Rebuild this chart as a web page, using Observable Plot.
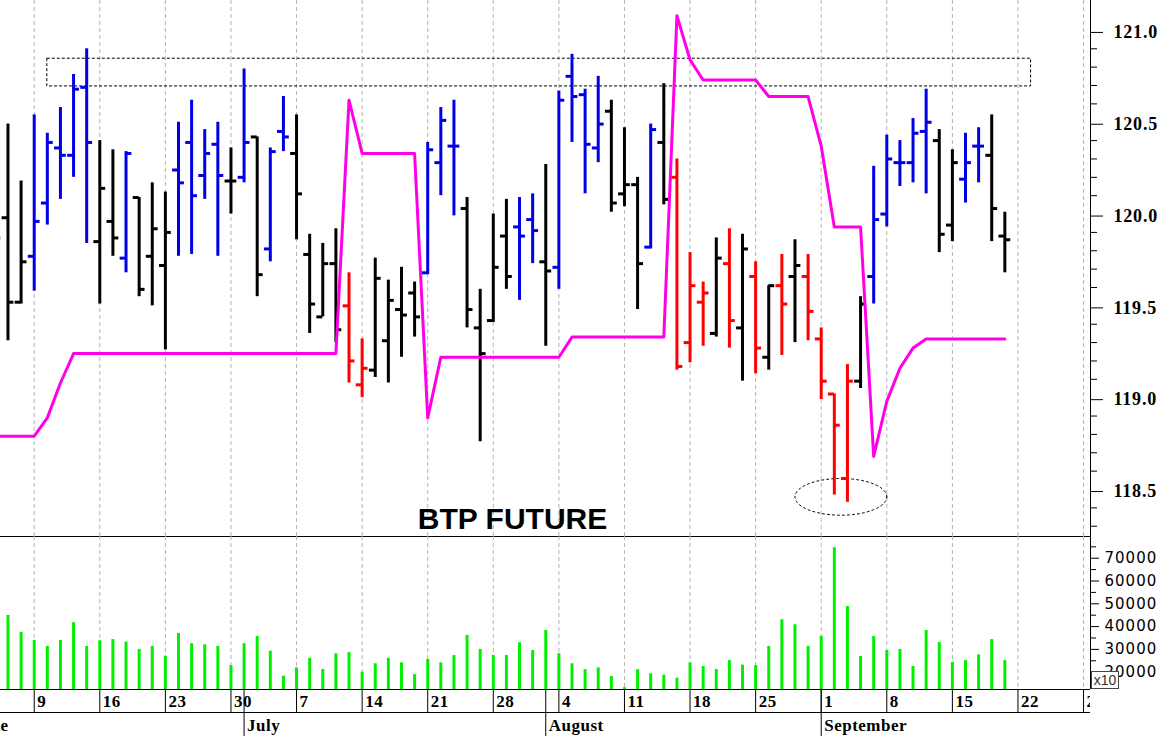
<!DOCTYPE html>
<html><head><meta charset="utf-8">
<script src="https://cdn.jsdelivr.net/npm/d3@7"></script>
<script src="https://cdn.jsdelivr.net/npm/@observablehq/plot@0.6"></script>
<style>
html,body{margin:0;padding:0;background:#fff;}
#chart{position:relative;width:1161px;height:736px;overflow:hidden;background:#fff;}
#chart svg{position:absolute;left:0;top:0;overflow:visible;background:transparent;}
#x10{position:absolute;left:1091px;top:671px;width:26px;height:16px;border:1px solid #444;background:#fff;font:14px "Liberation Sans",Arial,sans-serif;color:#333;line-height:16px;text-align:center;}
</style></head><body><div id="chart"></div><script>
// ---------- data ----------
const dates = [
 "2014-06-04","2014-06-05","2014-06-06",
 "2014-06-09","2014-06-10","2014-06-11","2014-06-12","2014-06-13",
 "2014-06-16","2014-06-17","2014-06-18","2014-06-19","2014-06-20",
 "2014-06-23","2014-06-24","2014-06-25","2014-06-26","2014-06-27",
 "2014-06-30","2014-07-01","2014-07-02","2014-07-03","2014-07-04",
 "2014-07-07","2014-07-08","2014-07-09","2014-07-10","2014-07-11",
 "2014-07-14","2014-07-15","2014-07-16","2014-07-17","2014-07-18",
 "2014-07-21","2014-07-22","2014-07-23","2014-07-24","2014-07-25",
 "2014-07-28","2014-07-29","2014-07-30","2014-07-31","2014-08-01",
 "2014-08-04","2014-08-05","2014-08-06","2014-08-07","2014-08-08",
 "2014-08-11","2014-08-12","2014-08-13","2014-08-14","2014-08-15",
 "2014-08-18","2014-08-19","2014-08-20","2014-08-21","2014-08-22",
 "2014-08-25","2014-08-26","2014-08-27","2014-08-28","2014-08-29",
 "2014-09-01","2014-09-02","2014-09-03","2014-09-04","2014-09-05",
 "2014-09-08","2014-09-09","2014-09-10","2014-09-11","2014-09-12",
 "2014-09-15","2014-09-16","2014-09-17","2014-09-18","2014-09-19"];
const opens = [119.80,119.98,119.52,
 119.77,120.06,120.36,120.32,120.69,
 119.85,119.96,119.76,120.09,119.77,
 119.72,120.24,120.39,120.21,120.38,
 120.18,120.20,120.42,119.81,120.45,
 120.33,119.78,119.44,119.73,119.50,
 119.07,119.15,119.31,119.48,119.57,
 119.68,120.28,120.37,120.03,119.38,
 119.42,119.88,119.93,119.97,119.74,
 119.71,120.75,120.65,120.36,120.56,
 120.11,120.16,119.82,120.39,120.20,
 119.30,119.52,119.35,119.73,119.38,
 119.66,119.22,119.61,119.66,119.66,
 119.32,119.02,118.56,119.09,119.66,
 120.00,120.28,120.28,120.45,120.40,
 119.94,120.19,120.37,120.32,119.88];
const highs = [120.00,120.49,120.18,
 120.54,120.44,120.58,120.76,120.90,
 120.40,120.35,120.34,120.09,120.17,
 120.12,120.50,120.62,120.46,120.50,
 120.36,120.79,120.42,120.36,120.64,
 120.54,119.89,119.84,119.92,119.68,
 119.32,119.76,119.64,119.71,119.63,
 120.39,120.58,120.62,120.09,119.59,
 120.00,120.08,120.09,120.11,120.27,
 120.67,120.87,120.68,120.75,120.62,
 120.47,120.20,120.49,120.71,120.30,
 119.79,119.63,119.87,119.92,119.89,
 119.74,119.61,119.78,119.86,119.78,
 119.38,119.02,119.18,119.55,120.26,
 120.43,120.40,120.52,120.68,120.46,
 120.35,120.44,120.47,120.54,120.01];
const lows = [119.75,119.31,119.51,
 119.58,119.94,120.08,120.20,119.84,
 119.51,119.77,119.68,119.55,119.50,
 119.26,119.77,119.78,120.08,119.77,
 120.00,120.17,119.55,119.74,120.34,
 119.86,119.35,119.44,119.30,119.08,
 119.00,119.11,119.08,119.22,119.33,
 119.67,120.10,119.99,119.38,118.76,
 119.41,119.59,119.53,119.73,119.28,
 119.59,120.39,120.11,120.28,120.01,
 120.04,119.48,119.81,120.05,119.15,
 119.19,119.28,119.33,119.27,119.09,
 119.13,119.15,119.23,119.30,119.31,
 118.99,118.47,118.43,119.05,119.51,
 119.93,120.15,120.17,120.11,119.79,
 119.85,120.06,120.17,119.85,119.68];
const closes = [119.87,119.52,119.74,
 119.96,120.39,120.32,120.68,120.39,
 120.14,119.87,120.33,119.59,119.92,
 119.90,120.17,120.10,120.33,120.21,
 120.18,120.39,119.67,120.34,120.42,
 120.11,119.51,119.73,119.37,119.20,
 119.16,119.65,119.53,119.45,119.44,
 120.35,120.51,120.37,119.48,119.24,
 119.71,119.66,119.88,119.91,119.69,
 120.62,120.64,120.38,120.49,120.06,
 120.16,119.73,120.46,120.08,119.17,
 119.61,119.57,119.76,119.42,119.81,
 119.27,119.61,119.51,119.72,119.47,
 119.09,118.85,119.09,119.51,119.97,
 120.30,120.28,120.44,120.50,119.89,
 120.28,120.28,120.37,120.03,119.86];
// bar colour class: b = blue, k = black, r = red
const barClass = ["b","k","k",
 "b","b","b","b","b",
 "k","k","b","k","k",
 "k","b","b","b","b",
 "k","b","k","b","b",
 "k","k","k","k","r",
 "r","k","k","k","k",
 "b","b","b","k","k",
 "k","k","b","b","k",
 "b","b","b","b","k",
 "k","k","b","k","r",
 "r","r","k","r","k",
 "r","k","r","k","r",
 "r","r","r","k","b",
 "b","b","b","b","k",
 "k","b","b","k","k"];
const stopLine = [118.79,118.79,118.79,
 118.79,118.89,119.08,119.24,119.24,
 119.24,119.24,119.24,119.24,119.24,
 119.24,119.24,119.24,119.24,119.24,
 119.24,119.24,119.24,119.24,119.24,
 119.24,119.24,119.24,119.24,120.62,
 120.33,120.33,120.33,120.33,120.33,
 118.89,119.22,119.22,119.22,119.22,
 119.22,119.22,119.22,119.22,119.22,
 119.22,119.33,119.33,119.33,119.33,
 119.33,119.33,119.33,119.33,121.08,
 120.84,120.73,120.73,120.73,120.73,
 120.73,120.64,120.64,120.64,120.64,
 120.37,119.93,119.93,119.93,118.68,
 118.98,119.16,119.27,119.32,119.32,
 119.32,119.32,119.32,119.32,119.32];
const volumes = [38000,44900,37500,
 33900,31300,33900,41700,31300,
 33800,34300,33200,30000,31300,
 26900,37000,32500,32000,31300,
 22900,32500,35700,29200,18300,
 21900,26100,21200,28100,28600,
 20000,23700,26100,24100,18900,
 25600,24100,27300,36100,30000,
 27300,27300,32900,29500,38300,
 28100,23700,21100,21900,18100,
 13200,21100,19300,18700,17400,
 24100,22500,21200,25100,23100,
 22900,31300,43000,40800,31300,
 35700,74600,48800,26900,35700,
 29500,30000,22500,38300,33000,
 24300,25100,27600,34300,25100];

const weekStarts = ["2014-06-09","2014-06-16","2014-06-23","2014-06-30","2014-07-07","2014-07-14",
 "2014-07-21","2014-07-28","2014-08-04","2014-08-11","2014-08-18","2014-08-25","2014-09-01",
 "2014-09-08","2014-09-15","2014-09-22","2014-09-29"];
const monthStarts = ["2014-06-02","2014-07-01","2014-08-01","2014-09-01"];
const monthNames = ["June","July","August","September"];
const priceMajor = [118.5,119.0,119.5,120.0,120.5,121.0];
const priceMinor = [118.3,118.4,118.6,118.7,118.8,118.9,119.1,119.2,119.3,119.4,119.6,119.7,119.8,119.9,
 120.1,120.2,120.3,120.4,120.6,120.7,120.8,120.9];
const volMajor = [20000,30000,40000,50000,60000,70000];
const volMinor = [25000,35000,45000,55000,65000,75000];
const boxDates = ["2014-06-10","2014-09-23"], boxPrices = [120.695,120.846];
const ovalDates = ["2014-08-28","2014-09-08"], ovalPrices = [118.36,118.56];
const title = "BTP FUTURE";

[opens,highs,lows,closes,barClass,stopLine,volumes].forEach((a,k)=>{ if(a.length!==dates.length) throw new Error("length mismatch "+k+": "+a.length); });

// ---------- trading-day index ----------
const key = d3.utcFormat("%Y-%m-%d");
const cal = d3.utcDays(new Date(Date.UTC(2014,4,26)), new Date(Date.UTC(2014,9,11))).filter(d => d.getUTCDay()%6 !== 0);
const base = cal.findIndex(d => key(d) === "2014-06-09");
const tIdx = new Map(cal.map((d,k) => [key(d), k - base]));
const ix = s => tIdx.get(s);

const palette = {b: "#0000e6", k: "#000000", r: "#ff0000"};
const bars = dates.map((d,k) => ({i: ix(d), open: opens[k], high: highs[k], low: lows[k], close: closes[k],
  color: palette[barClass[k]], stop: stopLine[k], vol: volumes[k]}));
const weeks = weekStarts.map(d => ({i: ix(d), label: String(+d.slice(8))}));
const months = monthStarts.map((d,k) => ({i: ix(d), label: monthNames[k]}));

// ellipse outline from its bounding dates/prices
const ex = [ix(ovalDates[0]), ix(ovalDates[1])];
const ocx = (ex[0]+ex[1])/2, orx = (ex[1]-ex[0])/2, ocy = (ovalPrices[0]+ovalPrices[1])/2, ory = (ovalPrices[1]-ovalPrices[0])/2;
const oval = d3.range(0, 121).map(k => ({x: ocx + orx*Math.cos(k/120*2*Math.PI), y: ocy + ory*Math.sin(k/120*2*Math.PI)}));

// ---------- layout ----------
const W = 1161, H = 736;
const xDomain = [-2.57, 80.53];
const priceDomain = [118.244, 121.163];
const volDomain = [12410, 79520];
const common = {width: W, height: H, marginLeft: 0, marginRight: 71,
  x: {type: "linear", domain: xDomain, axis: null},
  color: {type: "identity"},
  style: {background: "transparent", overflow: "visible"}};
const grid = {stroke: "#b4b4b4", strokeWidth: 1, strokeDasharray: "4,3"};
const serif = "Liberation Serif, Times New Roman, serif";

const pricePlot = Plot.plot({...common, marginTop: 0, marginBottom: H - 536,
  y: {domain: priceDomain, axis: null},
  marks: [
    Plot.ruleX(weeks, {x: "i", ...grid}),
    Plot.rect([0], {x1: () => ix(boxDates[0]), x2: () => ix(boxDates[1]), y1: () => boxPrices[0], y2: () => boxPrices[1],
      fill: "none", stroke: "#000", strokeWidth: 1, strokeDasharray: "3,2"}),
    Plot.line(oval, {x: "x", y: "y", stroke: "#000", strokeWidth: 1, strokeDasharray: "2,3"}),
    Plot.ruleX(bars, {x: "i", y1: "low", y2: "high", stroke: "color", strokeWidth: 3, clip: true}),
    Plot.ruleY(bars, {y: "open", x1: d => d.i - 0.45, x2: "i", stroke: "color", strokeWidth: 3, clip: true}),
    Plot.ruleY(bars, {y: "close", x1: "i", x2: d => d.i + 0.45, stroke: "color", strokeWidth: 3, clip: true}),
    Plot.line(bars, {x: "i", y: "stop", stroke: "#ff00e6", strokeWidth: 3, clip: true}),
    Plot.text([title], {frameAnchor: "bottom", textAnchor: "middle", lineAnchor: "bottom", dx: -33, dy: -8,
      fontFamily: "Liberation Sans, Arial, sans-serif", fontWeight: "bold", fontSize: 30, fill: "#000"}),
    Plot.axisY({anchor: "right", ticks: priceMajor, tickSize: 12, tickPadding: 11, tickFormat: d3.format(".1f"),
      fontFamily: serif, fontWeight: "bold", fontSize: 18, dy: 2, label: null}),
    Plot.axisY({anchor: "right", ticks: priceMinor, tickSize: 6, tickFormat: () => "", label: null}),
    Plot.ruleX([xDomain[1]], {stroke: "#000"}),
    Plot.ruleY([priceDomain[0]], {stroke: "#000"})
  ]});

const volPlot = Plot.plot({...common, marginTop: 536, marginBottom: H - 689,
  y: {domain: volDomain, axis: null},
  marks: [
    Plot.ruleX(weeks, {x: "i", ...grid}),
    Plot.ruleX(bars, {x: "i", y1: () => volDomain[0], y2: "vol", stroke: "#00f000", strokeWidth: 3, clip: true}),
    Plot.axisY({anchor: "right", ticks: volMajor, tickSize: 8, tickPadding: 6, tickFormat: d3.format("d"),
      fontFamily: "DejaVu Sans, sans-serif", fontSize: 15, label: null}),
    Plot.axisY({anchor: "right", ticks: volMinor, tickSize: 5, tickFormat: () => "", label: null}),
    Plot.ruleX([xDomain[1]], {stroke: "#000"})
  ]});

const datePlot = Plot.plot({...common, marginTop: 689, marginBottom: 0,
  y: {domain: [0, 47], range: [689, 736], axis: null},
  marks: [
    Plot.ruleY([0, 23], {stroke: "#000"}),
    Plot.ruleX(weeks, {x: "i", y1: () => 0, y2: () => 23, stroke: "#000"}),
    Plot.ruleX(months, {x: "i", y1: () => 0, y2: () => 47, stroke: "#000"}),
    Plot.text(weeks, {x: "i", y: () => 17.7, text: "label", dx: 3, textAnchor: "start", lineAnchor: "bottom",
      fontFamily: serif, fontWeight: "bold", fontSize: 17, fill: "#000", clip: true}),
    Plot.text(months, {x: "i", y: () => 41, text: "label", dx: 3, textAnchor: "start", lineAnchor: "bottom",
      fontFamily: serif, fontWeight: "bold", fontSize: 17, fill: "#000", clip: true})
  ]});

const chart = document.getElementById("chart");
for (const svg of [pricePlot, volPlot, datePlot]) chart.appendChild(svg);
pricePlot.querySelectorAll('[aria-label="y-axis tick label"]').forEach(g => g.setAttribute("letter-spacing", "0.8px"));
volPlot.querySelectorAll('[aria-label="y-axis tick label"]').forEach(g => g.setAttribute("letter-spacing", "1px"));
datePlot.querySelectorAll('[aria-label="text"]').forEach(g => g.setAttribute("letter-spacing", "0.5px"));
const box = document.createElement("div"); box.id = "x10"; box.textContent = "x10"; chart.appendChild(box);
</script></body></html>
